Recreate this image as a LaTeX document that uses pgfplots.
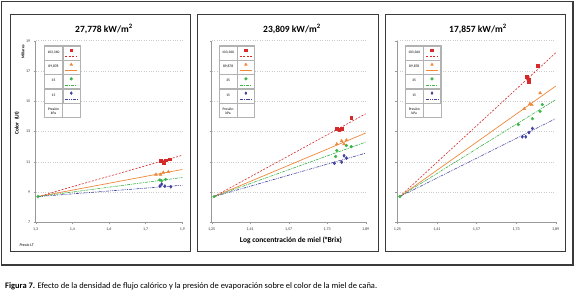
\documentclass[border=0pt]{standalone}
\usepackage{fontspec}
\setmainfont{Carlito}
\usepackage{graphicx}
\usepackage{pgfplots}
\pgfplotsset{compat=1.18}
\definecolor{cred}{HTML}{D42A2A}
\definecolor{corange}{HTML}{F0883A}
\definecolor{cgreen}{HTML}{3DB54A}
\definecolor{cblue}{HTML}{4040A0}
\definecolor{cframe}{HTML}{3A3A3A}
\tikzset{
  lred/.style={cred, line width=0.6pt, dash pattern=on 2pt off 1.5pt},
  lorange/.style={corange, line width=0.7pt, solid},
  lgreen/.style={cgreen, line width=0.6pt, dash pattern=on 3pt off 1pt on 1pt off 1pt},
  lblue/.style={cblue, line width=0.6pt, dash pattern=on 3pt off 1pt on 0.8pt off 1pt on 0.8pt off 1pt},
}
\newcommand{\legimg}[3]{%
  \draw[gray!60, solid, line width=0.3pt] (0pt,-7pt) rectangle (17pt,7pt);
  \draw[#1] (2.5pt,-3.5pt) -- (14.5pt,-3.5pt);
  \draw[#3, fill=#3, solid] plot[only marks, mark=#2, mark size=1.3pt] coordinates {(8.5pt,2.5pt)};
}
\pgfplotsset{
  panel/.style={
    scale only axis, height=181.6pt,
    xmin=1.25, xmax=1.89, ymin=7, ymax=19,
    axis x line*=bottom, axis y line*=left,
    axis line style={gray!80, line width=0.5pt},
    xtick={1.25,1.41,1.57,1.73,1.89},
    ytick={7,9,11,13,15,17,19},
    ymajorgrids, grid style={gray!40, dotted, line width=0.5pt},
    tick style={gray!80, line width=0.4pt}, major tick length=2pt, tick align=outside,
    ticklabel style={font=\fontsize{4}{4.5}\selectfont, text=black!80},
    /pgf/number format/assume math mode=true,
    clip=false,
    legend plot pos=right,
    legend cell align=center,
    legend style={anchor=north west, draw=gray!60, line width=0.3pt, inner sep=0pt, outer sep=0pt,
      row sep=0pt, column sep=0pt, fill=white,
      nodes={draw=gray!60, line width=0.3pt, minimum width=18pt, minimum height=14pt, inner sep=0pt,
        text width=17pt, align=center, font=\fontsize{3.6}{4}\selectfont}},
  },
  sred/.style={only marks, mark=square*, mark size=1.4pt, mark options={fill=cred, draw=cred, solid}, forget plot},
  sorange/.style={only marks, mark=triangle*, mark size=1.7pt, mark options={fill=corange, draw=corange, solid}, forget plot},
  sgreen/.style={only marks, mark=*, mark size=1.4pt, mark options={fill=cgreen, draw=cgreen, solid}, forget plot},
  sblue/.style={only marks, mark=diamond*, mark size=1.6pt, mark options={fill=cblue, draw=cblue, solid}, forget plot},
  tred/.style={lred, mark=none, legend image code/.code={\legimg{lred}{square*}{cred}}},
  torange/.style={lorange, mark=none, legend image code/.code={\legimg{lorange}{triangle*}{corange}}},
  tgreen/.style={lgreen, mark=none, legend image code/.code={\legimg{lgreen}{*}{cgreen}}},
  tblue/.style={lblue, mark=none, legend image code/.code={\legimg{lblue}{diamond*}{cblue}}},
  tempty/.style={legend image code/.code={\path[draw=none, fill=none] (0pt,-7pt) rectangle (17pt,7pt);}},
}
\begin{document}
\begin{tikzpicture}[x=1pt,y=1pt]
\useasboundingbox (0,0) rectangle (575,293);
\fill[white] (0,0) rectangle (575,293);
% frames
\draw[cframe, line width=1.4pt] (1.5,28) rectangle (573,291.5);
\draw[cframe, line width=0.9pt] (10,42) rectangle (190.5,279);
\draw[cframe, line width=0.9pt] (197.3,42) rectangle (378.3,279);
\draw[cframe, line width=0.9pt] (385,42) rectangle (565.7,279);

% ---------------- Panel 1 ----------------
\begin{axis}[panel, at={(35.7pt,70.7pt)}, anchor=south west, width=146.6pt,
  xticklabels={{1,3},{1,4},{1,6},{1,7},{1,9}},
  yticklabels={7,9,11,13,15,17,19},
  legend style={at={(0.059,0.973)}}]
\addplot[tred] coordinates {(1.26,8.7) (1.89,11.43)};
\addlegendentry{103,360}
\addplot[torange] coordinates {(1.26,8.7) (1.89,10.49)};
\addlegendentry{89,878}
\addplot[tgreen] coordinates {(1.26,8.7) (1.89,9.96)};
\addlegendentry{35}
\addplot[tblue] coordinates {(1.26,8.7) (1.89,9.45)};
\addlegendentry{15}
\addlegendimage{tempty}
\addlegendentry{Presión\\kPa}
\addplot[sred] coordinates {(1.795,11.06) (1.810,10.95) (1.818,11.10) (1.836,11.17)};
\addplot[sorange] coordinates {(1.775,10.16) (1.795,10.16) (1.807,10.29) (1.829,10.33)};
\addplot[sgreen] coordinates {(1.26,8.7) (1.792,9.80) (1.800,9.74) (1.817,9.83)};
\addplot[sblue] coordinates {(1.792,9.39) (1.800,9.52) (1.814,9.39) (1.840,9.35)};
\end{axis}

% ---------------- Panel 2 ----------------
\begin{axis}[panel, at={(211.7pt,70.7pt)}, anchor=south west, width=154pt,
  xticklabels={{1,25},{1,41},{1,57},{1,73},{1,89}},
  yticklabels={},
  legend style={at={(0.047,0.973)}}]
\addplot[tred] coordinates {(1.26,8.7) (1.89,14.17)};
\addlegendentry{103,360}
\addplot[torange] coordinates {(1.26,8.7) (1.89,12.9)};
\addlegendentry{89,878}
\addplot[tgreen] coordinates {(1.26,8.7) (1.89,12.3)};
\addlegendentry{35}
\addplot[tblue] coordinates {(1.26,8.7) (1.89,11.57)};
\addlegendentry{15}
\addlegendimage{tempty}
\addlegendentry{Presión\\kPa}
\addplot[sred] coordinates {(1.770,13.2) (1.780,13.1) (1.790,13.2) (1.830,13.9)};
\addplot[sorange] coordinates {(1.770,12.17) (1.790,12.37) (1.800,12.17) (1.810,12.43)};
\addplot[sgreen] coordinates {(1.26,8.7) (1.765,11.35) (1.770,11.74) (1.810,12.07) (1.830,12.0)};
\addplot[sblue] coordinates {(1.760,10.9) (1.790,10.98) (1.800,11.4) (1.810,11.24)};
\end{axis}

% ---------------- Panel 3 ----------------
\begin{axis}[panel, at={(397.3pt,70.7pt)}, anchor=south west, width=158.4pt,
  xticklabels={{1,25},{1,41},{1,57},{1,73},{1,89}},
  yticklabels={},
  legend style={at={(0.049,0.973)}}]
\addplot[tred] coordinates {(1.26,8.7) (1.89,18.2)};
\addlegendentry{103,360}
\addplot[torange] coordinates {(1.26,8.7) (1.89,16.0)};
\addlegendentry{89,878}
\addplot[tgreen] coordinates {(1.26,8.7) (1.89,15.1)};
\addlegendentry{35}
\addplot[tblue] coordinates {(1.26,8.7) (1.89,13.85)};
\addlegendentry{15}
\addlegendimage{tempty}
\addlegendentry{Presión\\kPa}
\addplot[sred] coordinates {(1.773,16.63) (1.780,16.41) (1.781,16.28) (1.816,17.33)};
\addplot[sorange] coordinates {(1.763,14.5) (1.786,14.83) (1.793,14.76) (1.827,15.54)};
\addplot[sgreen] coordinates {(1.26,8.7) (1.739,13.46) (1.796,13.85) (1.827,14.33) (1.836,14.78)};
\addplot[sblue] coordinates {(1.755,12.65) (1.769,12.65) (1.782,12.93) (1.796,13.2)};
\end{axis}

% titles and labels
\node[font=\bfseries\fontsize{9.5}{10}\selectfont] at (104,264.4) {27,778 kW/m\textsuperscript{2}};
\node[font=\bfseries\fontsize{9.5}{10}\selectfont] at (292,264.4) {23,809 kW/m\textsuperscript{2}};
\node[font=\bfseries\fontsize{9.5}{10}\selectfont] at (478,264.4) {17,857 kW/m\textsuperscript{2}};
\node[rotate=90, font=\bfseries\fontsize{5.5}{6}\selectfont] at (17,170) {Color\ \ (UI)};
\node[rotate=90, font=\bfseries\fontsize{4}{4.5}\selectfont] at (23,241) {Millares};
\node[anchor=west, font=\itshape\fontsize{4}{4.5}\selectfont] at (16,48) {Precio LT};
\node[font=\bfseries\fontsize{7.5}{8}\selectfont] at (291,53) {Log concentración de miel (°Brix)};
\node[anchor=west, inner sep=0pt] at (5,7) {\resizebox{372pt}{!}{\fontsize{8.8}{10}\selectfont\textbf{Figura 7.} Efecto de la densidad de flujo calórico y la presión de evaporación sobre el color de la miel de caña.}};
\end{tikzpicture}
\end{document}
